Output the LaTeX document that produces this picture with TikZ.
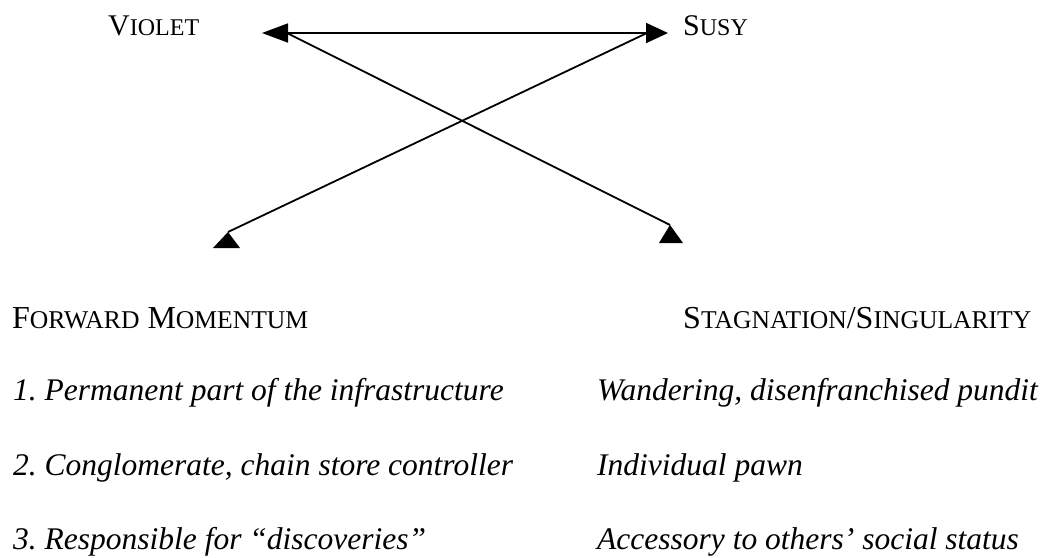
\documentclass[tikz,border=0pt]{standalone}
\usepackage{fontspec}
\setmainfont{Liberation Serif}
\usetikzlibrary{arrows.meta}
\frenchspacing
\newcommand\fakesc[2]{#1{\fontsize{25.6}{29}\selectfont #2}}
\newcommand\namesc[2]{#1{\fontsize{24}{28}\selectfont #2}}
\begin{document}
\begin{tikzpicture}[x=1pt,y=-1pt,
  lbl/.style={anchor=base west,inner sep=0pt,font=\fontsize{32}{36}\selectfont},
  personlbl/.style={lbl,font=\fontsize{30}{34}\selectfont},
  itl/.style={lbl,font=\fontsize{31.5}{35}\selectfont\itshape},
  conn/.style={line width=1.8pt},
  both/.style={{Triangle[length=26pt,width=19pt]}-{Triangle[length=22pt,width=20pt]}}]
\fill[white] (0,0) rectangle (1043,557);
\useasboundingbox (0,0) rectangle (1043,557);
% labels
\node[personlbl] (violet) at (108,35) {\namesc{V}{IOLET}};
\node[personlbl] (susy) at (683,35) {\namesc{S}{USY}};
\node[lbl] (fwd) at (12,328) {\fakesc{F}{ORWARD} \fakesc{M}{OMENTUM}};
\node[lbl] (stag) at (683,328) {\fakesc{S}{TAGNATION}/\fakesc{S}{INGULARITY}};
\node[itl] (l1) at (13,400) {1. Permanent part of the infrastructure};
\node[itl] (r1) at (597,400) {Wandering, disenfranchised pundit};
\node[itl] (l2) at (13,475) {2. Conglomerate, chain store controller};
\node[itl] (r2) at (597,475) {Individual pawn};
\node[itl] (l3) at (13,549) {3. Responsible for “discoveries”};
\node[itl] (r3) at (597,549) {Accessory to others’ social status};
% connector ends
\coordinate (vt) at (262,33);
\coordinate (st) at (668,33);
\coordinate (vb) at (287,33);
\coordinate (sb) at (647,33);
\coordinate (fm) at (228,232);
\coordinate (sm) at (670,225);
% arrows
\draw[conn,both] (vt) -- (st);
\draw[conn] (vb) -- (sm);
\draw[conn] (sb) -- (fm);
\fill (fm) -- ++(-15,16) -- ++(27,0) -- cycle;
\fill (sm) -- ++(-11,18) -- ++(24,0) -- cycle;
\end{tikzpicture}
\end{document}
